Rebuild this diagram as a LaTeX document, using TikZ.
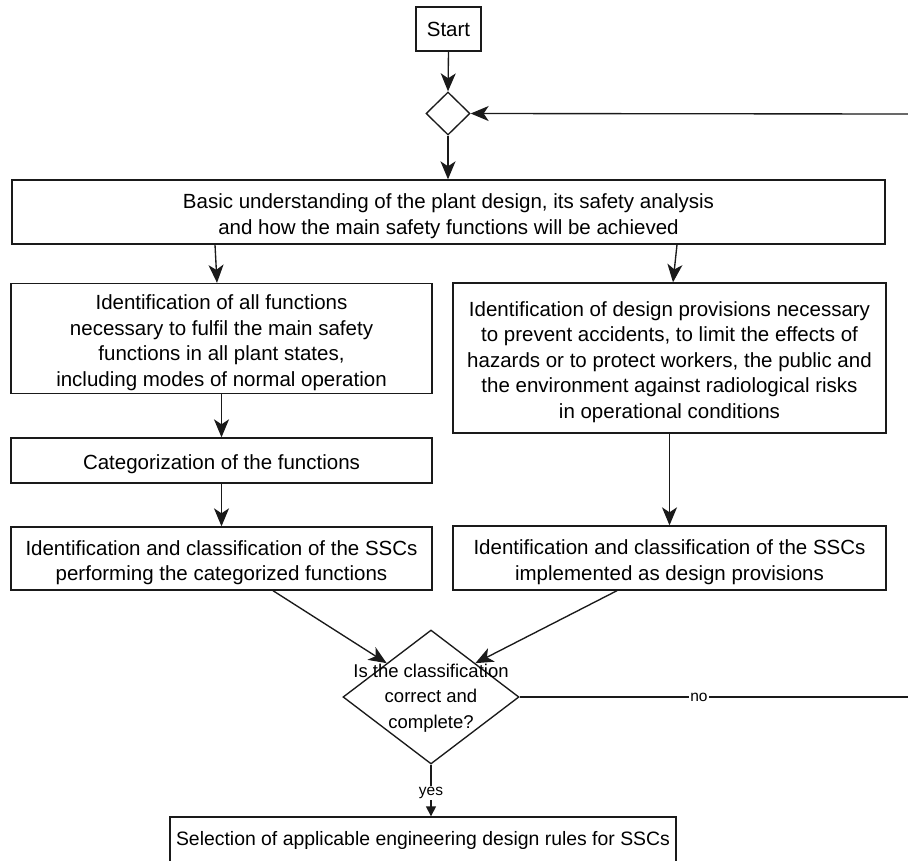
\documentclass[tikz,border=0pt]{standalone}
\usepackage{fontspec}
\setmainfont{Liberation Sans}
\usetikzlibrary{shapes.geometric,arrows.meta}
\definecolor{linec}{HTML}{1A1A1A}
% taller first line: lowers a text block inside its box
\newcommand\boxstrut{\rule{0pt}{23pt}}
\begin{document}
\begin{tikzpicture}[x=1pt,y=-1pt,line width=1.35pt,
  box/.style={draw=linec,rectangle,inner sep=0pt,align=center,
    font=\fontsize{20.5}{25.5}\selectfont},
  dia/.style={draw=linec,diamond,inner sep=0pt,shape aspect=1},
  txt/.style={inner sep=0pt,align=center,font=\fontsize{18.5}{25.5}\selectfont},
  lbl/.style={fill=white,inner sep=1.5pt,font=\fontsize{15.5}{18}\selectfont},
  arr/.style={draw=linec,-{Stealth[length=18pt 0 0,width=15pt 0,inset=5pt 0]}},
  yarr/.style={draw=linec,-{Triangle[length=10pt 0 0,width=10pt 0]}},
  link/.style={draw=linec}]

% page
\fill[white] (0,0) rectangle (908,860);
\useasboundingbox (0,0) rectangle (908,860);

% nodes
\node[box,minimum width=65pt,minimum height=44pt] (start) at (448.5,29) {Start};
\node[dia,minimum width=44pt,minimum height=43pt] (merge) at (448,113.5) {};
\node[box,minimum width=873pt,minimum height=64pt] (basic) at (448.5,212)
  {\boxstrut Basic understanding of the plant design, its safety analysis\\
   and how the main safety functions will be achieved};
\node[box,minimum width=421pt,minimum height=110pt] (funcs) at (221.5,338.5)
  {\boxstrut Identification of all functions\\
   necessary to fulfil the main safety\\
   functions in all plant states,\\
   including modes of normal operation};
\node[box,minimum width=421pt,minimum height=45pt] (categ) at (221.5,460.5)
  {\boxstrut Categorization of the functions};
\node[box,minimum width=421pt,minimum height=63pt] (sscf) at (221.5,558.5)
  {\boxstrut Identification and classification of the SSCs\\
   performing the categorized functions};
\node[box,minimum width=433pt,minimum height=150pt] (provs) at (669.5,358)
  {\boxstrut Identification of design provisions necessary\\
   to prevent accidents, to limit the effects of\\
   hazards or to protect workers, the public and\\
   the environment against radiological risks\\
   in operational conditions};
\node[box,minimum width=433pt,minimum height=64pt] (sscp) at (669.5,558)
  {\boxstrut Identification and classification of the SSCs\\
   implemented as design provisions};
\node[dia,minimum width=176pt,minimum height=134pt] (check) at (431,697) {};
\node[txt] (checktxt) at (431,698)
  {Is the classification\\ correct and\\ complete?};
\node[box,minimum width=506pt,minimum height=46pt,
  font=\fontsize{19.4}{23}\selectfont] (rules) at (423,840)
  {Selection of applicable engineering design rules for SSCs};

% loop return point beyond the right edge
\coordinate (loopb) at (912,697);
\coordinate (loopt) at (912,114);

% connectors
\draw[arr] (start.south) -- (merge.north);
\draw[arr] (merge.south) -- (merge.south |- basic.north);
\draw[arr] (basic.south -| 215,0) -- (funcs.north -| 217,0);
\draw[arr] (basic.south -| 677,0) -- (provs.north -| 673,0);
\draw[arr] (funcs.south) -- (categ.north);
\draw[arr] (categ.south) -- (sscf.north);
\draw[arr] (provs.south) -- (sscp.north);
\draw[arr] (sscf.south -| 273,0) -- (check.north west);
\draw[arr] (sscp.south -| 617,0) -- (check.north east);
\draw[link] (check.east) -- node[lbl,pos=0.457]{no} (loopb) -- (loopt);
\draw[arr] (loopt) -- (merge.east);
\draw[yarr] (check.south) -- node[lbl,pos=0.55]{yes} (check.south |- rules.north);
\end{tikzpicture}
\end{document}
